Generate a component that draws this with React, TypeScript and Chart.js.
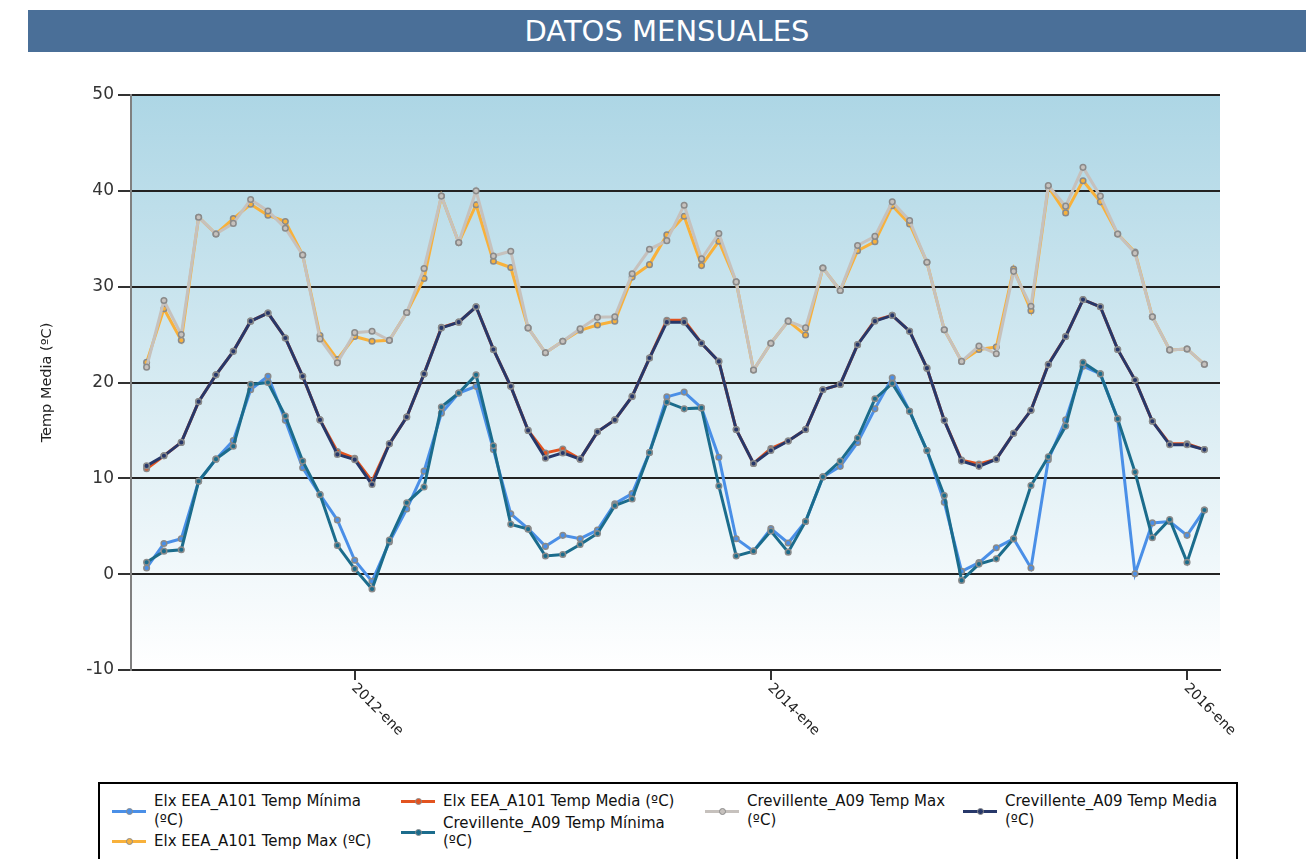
import React, { useEffect, useRef } from "react";
import { Chart, registerables } from "chart.js";

Chart.register(...registerables);

const YEARS = ["2011", "2012", "2013", "2014", "2015", "2016"];
const MESES = ["ene", "feb", "mar", "abr", "may", "jun", "jul", "ago", "sep", "oct", "nov", "dic"];
const MONTH_LABELS: string[] = YEARS.flatMap((y) => MESES.map((m) => `${y}-${m}`)).slice(0, 62);

const TICK_INDEX = [12, 36, 60];
const TICK_LABELS = ["2012-ene", "2014-ene", "2016-ene"];
const Y_MIN = -10;
const Y_MAX = 50;
const Y_STEP = 10;

const ELX_MIN = [0.65, 3.2, 3.7, 9.7, 12.0, 13.95, 19.25, 20.65, 16.05, 11.1, 8.3, 5.65, 1.45, -0.75, 3.35, 6.8, 10.75, 16.8, 18.9, 19.6, 13.0, 6.3, 4.75, 2.9, 4.05, 3.7, 4.6, 7.35, 8.4, 12.7, 18.5, 19.0, 17.35, 12.2, 3.7, 2.4, 4.75, 3.25, 5.5, 10.15, 11.25, 13.75, 17.25, 20.5, 17.0, 12.9, 7.5, 0.3, 1.2, 2.75, 3.7, 0.65, 11.95, 16.1, 21.7, 20.9, 16.2, 0.05, 5.35, 5.5, 4.05, 6.7];
const ELX_MAX = [22.1, 27.7, 24.4, 37.25, 35.5, 37.1, 38.6, 37.45, 36.8, 33.3, 24.9, 22.4, 24.8, 24.3, 24.4, 27.3, 30.85, 39.45, 34.6, 38.55, 32.65, 32.0, 25.7, 23.1, 24.3, 25.45, 26.0, 26.4, 31.0, 32.3, 35.4, 37.35, 32.2, 34.75, 30.5, 21.3, 24.1, 26.4, 24.95, 31.95, 29.6, 33.75, 34.7, 38.45, 36.55, 32.55, 25.5, 22.2, 23.45, 23.7, 31.85, 27.5, 40.4, 37.7, 41.05, 38.85, 35.5, 33.6, 26.85, 23.4, 23.5, 21.9];
const ELX_MEDIA = [11.0, 12.35, 13.75, 18.0, 20.8, 23.25, 26.4, 27.25, 24.65, 20.65, 16.1, 12.8, 12.1, 9.7, 13.6, 16.4, 20.9, 25.75, 26.3, 27.9, 23.45, 19.6, 15.0, 12.65, 13.05, 12.0, 14.85, 16.1, 18.55, 22.55, 26.5, 26.5, 24.1, 22.2, 15.1, 11.55, 13.1, 13.9, 15.1, 19.25, 19.8, 23.95, 26.5, 27.0, 25.35, 21.5, 16.05, 11.9, 11.5, 12.0, 14.7, 17.1, 21.9, 24.8, 28.65, 27.9, 23.45, 20.25, 15.95, 13.6, 13.6, 13.0];
const CREV_MIN = [1.25, 2.4, 2.55, 9.7, 12.0, 13.35, 19.8, 20.0, 16.5, 11.8, 8.3, 3.0, 0.55, -1.55, 3.55, 7.45, 9.1, 17.45, 18.9, 20.8, 13.4, 5.2, 4.7, 1.9, 2.05, 3.1, 4.25, 7.15, 7.85, 12.7, 17.95, 17.25, 17.35, 9.2, 1.9, 2.4, 4.5, 2.3, 5.5, 10.15, 11.8, 14.2, 18.3, 19.9, 17.0, 12.9, 8.2, -0.65, 1.05, 1.6, 3.7, 9.25, 12.25, 15.45, 22.1, 20.9, 16.2, 10.65, 3.8, 5.7, 1.25, 6.7];
const CREV_MAX = [21.6, 28.55, 25.0, 37.25, 35.5, 36.6, 39.1, 37.9, 36.1, 33.3, 24.55, 22.05, 25.2, 25.35, 24.4, 27.3, 31.9, 39.45, 34.6, 40.0, 33.2, 33.7, 25.7, 23.1, 24.3, 25.6, 26.8, 26.85, 31.35, 33.9, 34.8, 38.5, 32.9, 35.55, 30.5, 21.3, 24.1, 26.4, 25.7, 31.95, 29.6, 34.3, 35.25, 38.85, 36.9, 32.55, 25.5, 22.2, 23.8, 23.0, 31.6, 27.95, 40.55, 38.4, 42.45, 39.45, 35.5, 33.5, 26.85, 23.4, 23.5, 21.9];
const CREV_MEDIA = [11.3, 12.35, 13.75, 18.0, 20.8, 23.25, 26.4, 27.25, 24.65, 20.65, 16.1, 12.5, 11.95, 9.35, 13.6, 16.4, 20.9, 25.7, 26.3, 27.9, 23.45, 19.6, 15.0, 12.1, 12.65, 12.0, 14.85, 16.1, 18.55, 22.55, 26.3, 26.3, 24.1, 22.2, 15.1, 11.55, 12.9, 13.9, 15.1, 19.25, 19.8, 23.95, 26.4, 27.0, 25.35, 21.5, 16.05, 11.8, 11.25, 12.0, 14.7, 17.1, 21.85, 24.8, 28.65, 27.9, 23.45, 20.25, 15.95, 13.5, 13.5, 13.0];

const SERIES_NAMES = [
  "Elx EEA_A101 Temp Mínima (ºC)",
  "Elx EEA_A101 Temp Max (ºC)",
  "Elx EEA_A101 Temp Media (ºC)",
  "Crevillente_A09 Temp Mínima (ºC)",
  "Crevillente_A09 Temp Max (ºC)",
  "Crevillente_A09 Temp Media (ºC)",
];
const SERIES_VALUES = [ELX_MIN, ELX_MAX, ELX_MEDIA, CREV_MIN, CREV_MAX, CREV_MEDIA];
const SERIES_COLORS = ["#4a8fe7", "#f8b13b", "#e2531f", "#1b6c8c", "#c6c1bd", "#27386a"];
const SERIES_ORDER = [1, 1, 1, 0, 0, 0];

// legend lines (column-major layout)
const LEGEND_LINES = [
  ["Elx EEA_A101 Temp Mínima", "(ºC)"],
  ["Elx EEA_A101 Temp Max (ºC)"],
  ["Elx EEA_A101 Temp Media (ºC)"],
  ["Crevillente_A09 Temp Mínima", "(ºC)"],
  ["Crevillente_A09 Temp Max", "(ºC)"],
  ["Crevillente_A09 Temp Media", "(ºC)"],
];
const LEGEND_COLUMNS = [[0, 1], [2, 3], [4], [5]];
const LEGEND_COL_X = [112, 401, 705, 963];

const FONT = '"DejaVu Sans", "Liberation Sans", Arial, sans-serif';

const bgPlugin = {
  id: "bgGradient",
  beforeDraw(chart: any) {
    const { ctx, chartArea } = chart;
    if (!chartArea) return;
    const g = ctx.createLinearGradient(0, chartArea.top, 0, chartArea.bottom);
    g.addColorStop(0, "#add6e5");
    g.addColorStop(1, "#ffffff");
    ctx.save();
    ctx.fillStyle = g;
    ctx.fillRect(chartArea.left, chartArea.top, chartArea.right - chartArea.left, chartArea.bottom - chartArea.top);
    ctx.restore();
  },
};

const xLabelPlugin = {
  id: "xLabels",
  afterDraw(chart: any) {
    const xs = chart.scales.x;
    const ctx = chart.ctx;
    ctx.save();
    ctx.font = `14px ${FONT}`;
    ctx.fillStyle = "#222";
    ctx.textAlign = "left";
    ctx.textBaseline = "middle";
    TICK_INDEX.forEach((v, k) => {
      const px = xs.getPixelForValue(v);
      ctx.save();
      ctx.translate(px - 1, xs.top + 16);
      ctx.rotate(Math.PI / 4);
      ctx.fillText(TICK_LABELS[k], 0, 0);
      ctx.restore();
    });
    ctx.restore();
  },
};

function LegendMarker({ color }: { color: string }) {
  return (
    <div style={{ position: "relative", width: 34, height: 10, flex: "0 0 34px", marginRight: 8 }}>
      <div style={{ position: "absolute", left: 0, right: 0, top: 4, height: 3, background: color }} />
      <div
        style={{
          position: "absolute",
          left: 14,
          top: 2,
          width: 5,
          height: 5,
          borderRadius: "50%",
          background: color,
          border: "1px solid #8c8c8c",
        }}
      />
    </div>
  );
}

export default function App() {
  const canvasRef = useRef<HTMLCanvasElement | null>(null);

  useEffect(() => {
    const canvas = canvasRef.current;
    if (!canvas) return;
    const datasets = SERIES_VALUES.map((vals, i) => ({
      label: SERIES_NAMES[i],
      data: vals.map((v, k) => ({ x: k, y: v })),
      borderColor: SERIES_COLORS[i],
      backgroundColor: SERIES_COLORS[i],
      pointBackgroundColor: SERIES_COLORS[i],
      pointBorderColor: "#8a8a8a",
      pointBorderWidth: 1.5,
      pointRadius: 2.8,
      borderWidth: 3,
      tension: 0,
      order: SERIES_ORDER[i],
    }));
    const chart = new Chart(canvas, {
      type: "line",
      data: { labels: MONTH_LABELS, datasets },
      options: {
        responsive: false,
        animation: false,
        events: [],
        layout: { padding: { top: 95, right: 86, left: 0, bottom: 0 } },
        plugins: { legend: { display: false }, tooltip: { enabled: false }, title: { display: false } },
        scales: {
          x: {
            type: "linear",
            min: -0.9,
            max: 61.9,
            afterBuildTicks: (s: any) => {
              s.ticks = TICK_INDEX.map((v) => ({ value: v }));
            },
            afterFit: (s: any) => {
              s.height = 110;
            },
            ticks: { display: false, autoSkip: false },
            grid: { drawOnChartArea: false, drawTicks: true, tickLength: 10, tickColor: "#333", lineWidth: 2 },
            border: { display: true, color: "#222", width: 2 },
          },
          y: {
            min: Y_MIN,
            max: Y_MAX,
            afterBuildTicks: (s: any) => {
              const t = [];
              for (let v = Y_MIN; v <= Y_MAX; v += Y_STEP) t.push({ value: v });
              s.ticks = t;
            },
            afterFit: (s: any) => {
              s.width = 131;
            },
            ticks: { color: "#333", font: { family: FONT, size: 17 }, padding: 4 },
            grid: { color: "#222", lineWidth: 2, tickLength: 13, tickColor: "#333", drawTicks: true },
            border: { display: true, color: "#808080", width: 2 },
            title: {
              display: true,
              text: "Temp Media (ºC)",
              color: "#222",
              font: { family: FONT, size: 14.5 },
              padding: { top: 39, bottom: 0 },
            },
          },
        },
      },
      plugins: [bgPlugin, xLabelPlugin],
    });
    return () => chart.destroy();
  }, []);

  return (
    <div style={{ position: "absolute", left: 0, top: 0, width: 1306, height: 859, overflow: "hidden", background: "#fff" }}>
      <div
        style={{
          position: "absolute",
          left: 28,
          top: 10,
          width: 1278,
          height: 42,
          background: "#4a6f98",
          color: "#fff",
          font: `29px ${FONT}`,
          lineHeight: "42px",
          textAlign: "center",
        }}
      >
        DATOS MENSUALES
      </div>
      <canvas
        ref={canvasRef}
        width={1306}
        height={780}
        style={{ position: "absolute", left: 0, top: 0, width: 1306, height: 780 }}
      />
      <div
        style={{
          position: "absolute",
          left: 98,
          top: 782,
          width: 1140,
          height: 120,
          border: "2px solid #000",
          boxSizing: "border-box",
        }}
      />
      {LEGEND_COLUMNS.map((col, ci) => (
        <div
          key={ci}
          style={{ position: "absolute", left: LEGEND_COL_X[ci], top: 792, display: "flex", flexDirection: "column" }}
        >
          {col.map((si) => (
            <div key={si} style={{ display: "flex", alignItems: "center", marginBottom: 3 }}>
              <LegendMarker color={SERIES_COLORS[si]} />
              <div style={{ font: `15px ${FONT}`, lineHeight: "18.5px", color: "#111", whiteSpace: "nowrap" }}>
                {LEGEND_LINES[si].map((ln, li) => (
                  <div key={li}>{ln}</div>
                ))}
              </div>
            </div>
          ))}
        </div>
      ))}
    </div>
  );
}
